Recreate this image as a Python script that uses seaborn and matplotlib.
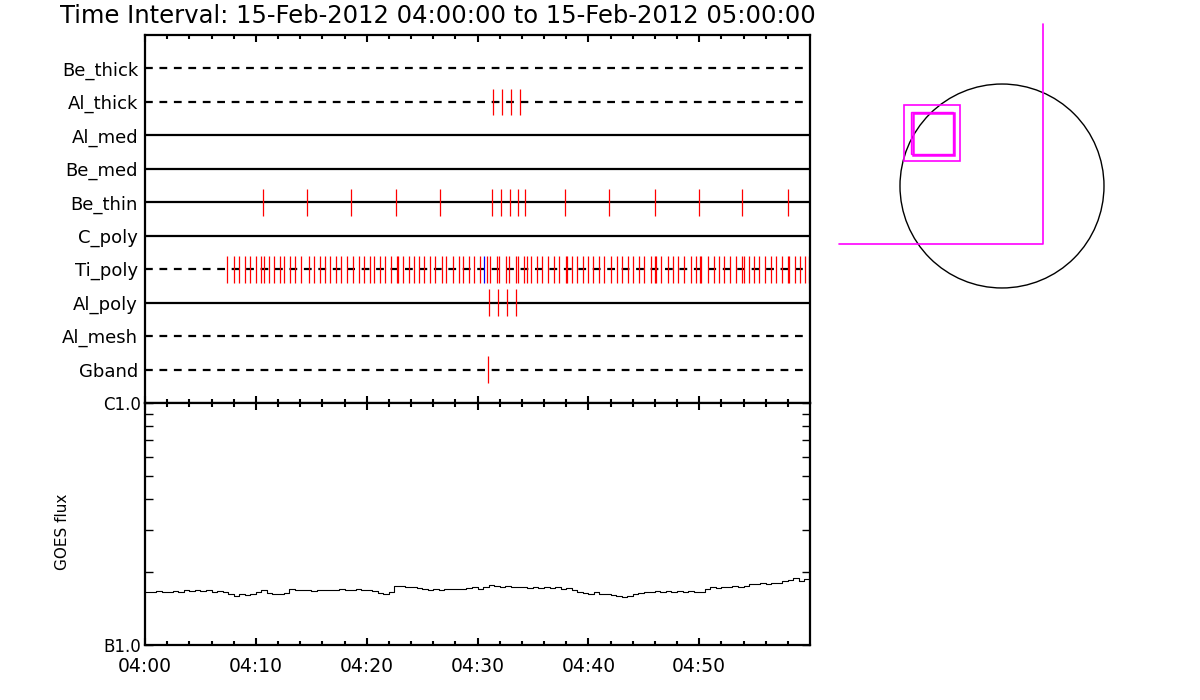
import matplotlib
matplotlib.use('Agg')
import matplotlib.pyplot as plt
from matplotlib.patches import Circle, Rectangle
from matplotlib.ticker import NullFormatter
import seaborn as sns

sns.set_theme(style='white')
plt.rcParams['font.family'] = ['DejaVu Sans']
plt.rcParams['xtick.direction'] = 'in'
plt.rcParams['ytick.direction'] = 'in'
plt.rcParams['text.color'] = 'black'
plt.rcParams['axes.labelcolor'] = 'black'
plt.rcParams['xtick.labelcolor'] = 'black'
plt.rcParams['ytick.labelcolor'] = 'black'

# --- data ---
title = 'Time Interval: 15-Feb-2012 04:00:00 to 15-Feb-2012 05:00:00'
filters = ['Be_thick', 'Al_thick', 'Al_med', 'Be_med', 'Be_thin',
           'C_poly', 'Ti_poly', 'Al_poly', 'Al_mesh', 'Gband']
filter_dashed = [True, True, False, False, False, False, True, False, True, True]

# exposure times, minutes after 04:00
al_thick_times = [31.43, 32.25, 33.06, 33.87]
be_thin_times = [10.68, 14.65, 18.62, 22.68, 26.65, 31.35, 32.16, 32.97, 33.69,
                 34.32, 37.93, 41.90, 45.97, 49.94, 53.90, 57.97]
ti_poly_times = [7.43, 8.06, 8.51, 9.05, 9.50, 10.05, 10.50, 10.77, 11.22, 11.67,
                 12.21, 12.57, 13.11, 13.57, 14.11, 14.83, 15.28, 15.82, 16.28,
                 16.73, 17.27, 17.72, 18.26, 18.80, 19.34, 19.79, 20.33, 20.70,
                 21.24, 21.69, 22.23, 22.77, 22.86, 23.31, 23.85, 24.30, 24.75,
                 25.21, 25.75, 26.20, 26.83, 27.19, 27.82, 28.37, 28.73, 29.27,
                 29.72, 30.26, 30.89, 31.16, 31.80, 31.98, 32.61, 32.80, 33.43,
                 33.62, 34.23, 34.50, 34.86, 35.41, 35.86, 36.40, 36.94, 37.39,
                 38.02, 38.11, 38.56, 39.01, 39.56, 40.01, 40.46, 41.00, 41.45,
                 42.08, 42.63, 43.08, 43.62, 44.07, 44.61, 45.06, 45.61, 46.06,
                 46.15, 46.60, 47.23, 47.68, 48.13, 48.59, 49.22, 49.67, 50.12,
                 50.21, 50.84, 51.38, 51.83, 52.28, 52.82, 53.28, 53.82, 54.09,
                 54.54, 54.99, 55.44, 55.90, 56.44, 56.89, 57.43, 58.06, 58.15,
                 58.69, 59.14, 59.59, 59.95]
ti_poly_blue = [30.62]
al_poly_times = [31.07, 31.89, 32.70, 33.51]
gband_times = [30.98]

goes_minutes = [i * 0.5 for i in range(121)]
goes_flux_b = [1.66, 1.65, 1.67, 1.66, 1.65, 1.67, 1.66, 1.68, 1.67, 1.69,
               1.67, 1.68, 1.66, 1.67, 1.65, 1.62, 1.60, 1.62, 1.61, 1.63,
               1.66, 1.69, 1.64, 1.62, 1.63, 1.64, 1.70, 1.69, 1.68, 1.69,
               1.67, 1.68, 1.69, 1.68, 1.69, 1.70, 1.68, 1.69, 1.70, 1.68,
               1.69, 1.67, 1.64, 1.63, 1.66, 1.76, 1.75, 1.74, 1.73, 1.72,
               1.71, 1.69, 1.70, 1.69, 1.70, 1.71, 1.70, 1.71, 1.72, 1.73,
               1.71, 1.74, 1.77, 1.75, 1.74, 1.75, 1.74, 1.73, 1.74, 1.72,
               1.73, 1.72, 1.73, 1.72, 1.73, 1.70, 1.72, 1.69, 1.66, 1.64,
               1.63, 1.65, 1.62, 1.63, 1.61, 1.60, 1.58, 1.60, 1.62, 1.64,
               1.66, 1.65, 1.67, 1.66, 1.67, 1.66, 1.67, 1.66, 1.67, 1.65,
               1.66, 1.70, 1.73, 1.72, 1.74, 1.73, 1.75, 1.74, 1.76, 1.79,
               1.78, 1.80, 1.79, 1.81, 1.80, 1.83, 1.86, 1.90, 1.84, 1.87, 1.88]
goes_flux = [v * 1e-7 for v in goes_flux_b]

tick_minutes = [0, 10, 20, 30, 40, 50]
tick_labels = ['04:00', '04:10', '04:20', '04:30', '04:40', '04:50']

# solar disk and pointing, arcsec
sun_radius = 975
fov_x = [-1558, 392, 392]
fov_y = [-554, -554, 1549]
boxes = [(-937, 239, 535, 535, 1.2), (-918, 239, 535, 535, 0.0),
         (-870, 306, 402, 401, 1.0), (-851, 296, 392, 402, 1.8)]

rows = {'Al_thick': al_thick_times, 'Be_thin': be_thin_times,
        'Ti_poly': ti_poly_times, 'Al_poly': al_poly_times, 'Gband': gband_times}

fig = plt.figure(figsize=(12, 7), dpi=100)
fig.text(60 / 1200, 1 - 16 / 700, title, fontsize=17.5, va='center', ha='left')

# --- top: filter timeline ---
ax1 = fig.add_axes([145 / 1200, 297 / 700, 665 / 1200, 368 / 700])
for i, (name, dashed) in enumerate(zip(filters, filter_dashed)):
    pos = i + 1
    ls = (0, (3.5, 3)) if dashed else '-'
    ax1.hlines(pos, 0, 60, colors='black', lw=1.6, linestyles=[ls])
    if name in rows:
        ax1.vlines(rows[name], pos - 0.4, pos + 0.4, colors='red', lw=0.9)
    if name == 'Ti_poly':
        ax1.vlines(ti_poly_blue, pos - 0.4, pos + 0.4, colors='blue', lw=0.9)
ax1.set_xlim(0, 60)
ax1.set_ylim(11, 0)
ax1.set_yticks(range(1, 11))
ax1.set_yticklabels(filters, fontsize=13)
ax1.tick_params(axis='y', length=0, pad=5)
ax1.set_xticks(tick_minutes)
ax1.set_xticks(range(0, 60, 2), minor=True)
ax1.tick_params(axis='x', which='both', top=True, bottom=True,
                labelbottom=False, width=1.5, color='black')
ax1.tick_params(axis='x', which='major', length=5)
ax1.tick_params(axis='x', which='minor', length=3)

# --- bottom: GOES flux ---
ax2 = fig.add_axes([145 / 1200, 55 / 700, 665 / 1200, 242 / 700])
sns.lineplot(x=goes_minutes, y=goes_flux, ax=ax2, color='black', lw=0.8,
             estimator=None, sort=False, drawstyle='steps-post')
ax2.set_yscale('log')
ax2.set_xlim(0, 60)
ax2.set_ylim(1e-7, 1e-6)
ax2.set_yticks([1e-7, 1e-6])
ax2.set_yticklabels(['B1.0', 'C1.0'], fontsize=12)
ax2.set_yticks([k * 1e-7 for k in range(2, 10)], minor=True)
ax2.yaxis.set_minor_formatter(NullFormatter())
ax2.tick_params(axis='y', which='both', left=True, right=True, length=6,
                width=1, color='black', pad=3)
ax2.set_xticks(tick_minutes)
ax2.set_xticklabels(tick_labels, fontsize=13.5)
ax2.set_xticks(range(0, 60, 2), minor=True)
ax2.tick_params(axis='x', which='both', top=True, bottom=True, width=1.5,
                color='black', pad=9)
ax2.tick_params(axis='x', which='major', length=5)
ax2.tick_params(axis='x', which='minor', length=3)
ax2.set_ylabel('GOES flux', fontsize=11)
ax2.yaxis.set_label_coords(-0.113, 0.467)

for ax in (ax1, ax2):
    for sp in ax.spines.values():
        sp.set_color('black')
        sp.set_linewidth(1.6)

# --- right: solar disk with pointing ---
ax3 = fig.add_axes([830 / 1200, 400 / 700, 290 / 1200, 285 / 700])
ax3.add_patch(Circle((0, 0), sun_radius, fill=False, ec='black', lw=1))
ax3.plot(fov_x, fov_y, color='magenta', lw=1.2)
for bx, by, bw, bh, blw in boxes:
    if blw > 0:
        ax3.add_patch(Rectangle((bx, by), bw, bh, fill=False, ec='magenta', lw=blw))
ax3.set_xlim(-1644, 1128)
ax3.set_ylim(-1090, 1635)
ax3.axis('off')

fig.savefig('out.png', dpi=100)
